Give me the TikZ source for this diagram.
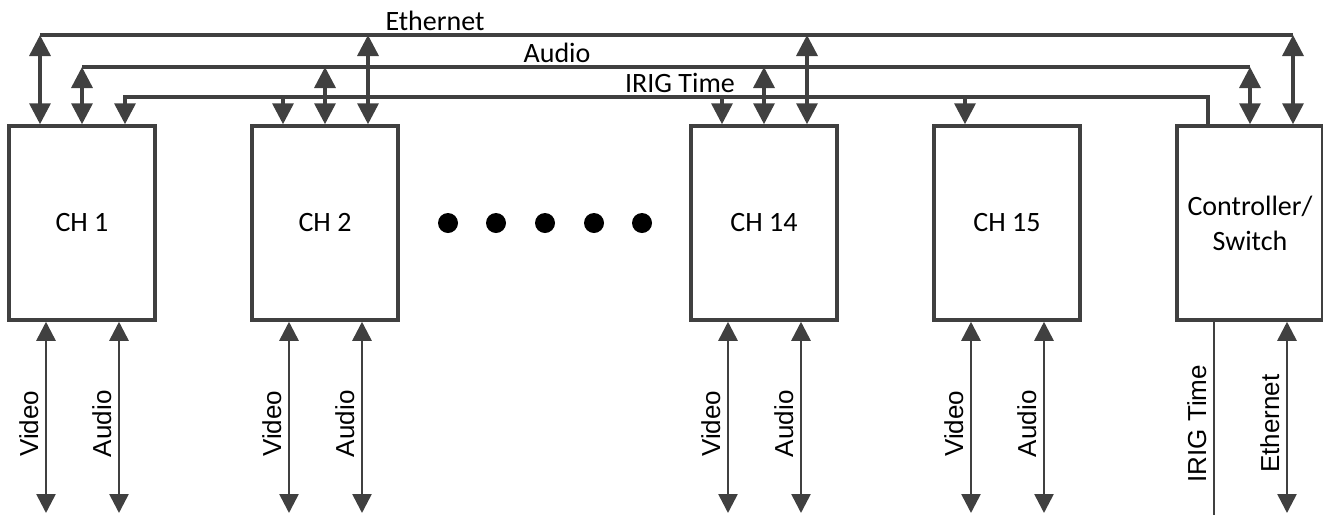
\documentclass[tikz,border=0pt]{standalone}
\usepackage{fontspec}
\setmainfont{Carlito}
\newfontfamily\arialfont{Liberation Sans}
\usetikzlibrary{arrows.meta,calc}
\definecolor{wire}{HTML}{404040}

\begin{document}
\begin{tikzpicture}[
    x = 1pt, y = -1pt,
    every node/.style = {font = \fontsize{28}{35}\selectfont},
    chbox/.style = {draw = wire, line width = 3.5pt, minimum width = 146pt,
        minimum height = 194pt, align = center, inner sep = 0pt},
    bus/.style = {draw = wire, line width = 3.5pt},
    link/.style = {bus, {Triangle[length=21pt,width=21pt]}-{Triangle[length=21pt,width=21pt]}},
    drop/.style = {bus, -{Triangle[length=21pt,width=21pt]}},
    io/.style = {draw = wire, line width = 2.6pt,
        {Triangle[length=19pt,width=19pt]}-{Triangle[length=19pt,width=19pt]}},
    sig/.style = {font = \arialfont\fontsize{26}{30}\selectfont, rotate = 90, anchor = base}]

\useasboundingbox (0,0) rectangle (1323,515);

% channel boxes
\node[chbox] (ch1)  at (82,223)   {CH 1};
\node[chbox] (ch2)  at (325,223)  {CH 2};
\node[chbox] (ch14) at (764,223)  {CH 14};
\node[chbox] (ch15) at (1007,223) {CH 15};
\node[chbox] (ctrl) at (1250,223) {Controller/\\Switch};

\foreach \x in {448,496,545,594,642}
    \fill (\x,223) circle (10pt);

% ports
\foreach \b in {ch1,ch2,ch14,ch15,ctrl} {
    \coordinate (\b-l)   at ($(\b.north)+(-42,0)$);
    \coordinate (\b-r)   at ($(\b.north)+(43,0)$);
    \coordinate (\b-vid) at ($(\b.south)+(-36,0)$);
    \coordinate (\b-aud) at ($(\b.south)+(37,0)$);
}
\coordinate (ethY)  at (0,35);
\coordinate (audY)  at (0,67);
\coordinate (irigY) at (0,97);
\coordinate (botY)  at (0,513);
\coordinate (edgeY) at (0,515);

% buses
\draw[bus] (ch1-l |- ethY) -- (ctrl-r |- ethY);
\draw[bus] (ch1.north |- audY) -- (ctrl.north |- audY);
\draw[drop] (ctrl-l) -- (ctrl-l |- irigY) -- (ch1-r |- irigY) -- (ch1-r);
\node[anchor=base] (ethbus)  at (435,30) {Ethernet};
\node[anchor=base] (audbus)  at (557,62) {Audio};
\node[anchor=base] (irigbus) at (680,92) {IRIG Time};

\draw[link] (ch1-l) -- (ch1-l |- ethY);
\draw[link] (ch1.north) -- (ch1.north |- audY);
\foreach \b in {ch2,ch14,ctrl} {
    \draw[link] (\b.north) -- (\b.north |- audY);
    \draw[link] (\b-r) -- (\b-r |- ethY);
}
\foreach \b in {ch2,ch14,ch15}
    \draw[drop] (\b-l |- irigY) -- (\b-l);

% outside connections
\foreach \b in {ch1,ch2,ch14,ch15} {
    \draw[io] (\b-vid) -- (\b-vid |- botY);
    \draw[io] (\b-aud) -- (\b-aud |- botY);
    \node[sig] (\b-vidlbl) at ($(\b-vid)+(-8,102)$) {Video};
    \node[sig] (\b-audlbl) at ($(\b-aud)+(-8,102)$) {Audio};
}
\draw[io, -] (ctrl-vid) -- (ctrl-vid |- edgeY);
\draw[io] (ctrl-aud) -- (ctrl-aud |- botY);
\node[sig] (ctrl-vidlbl) at ($(ctrl-vid)+(-8,102)$) {IRIG Time};
\node[sig] (ctrl-audlbl) at ($(ctrl-aud)+(-8,102)$) {Ethernet};
\end{tikzpicture}
\end{document}
